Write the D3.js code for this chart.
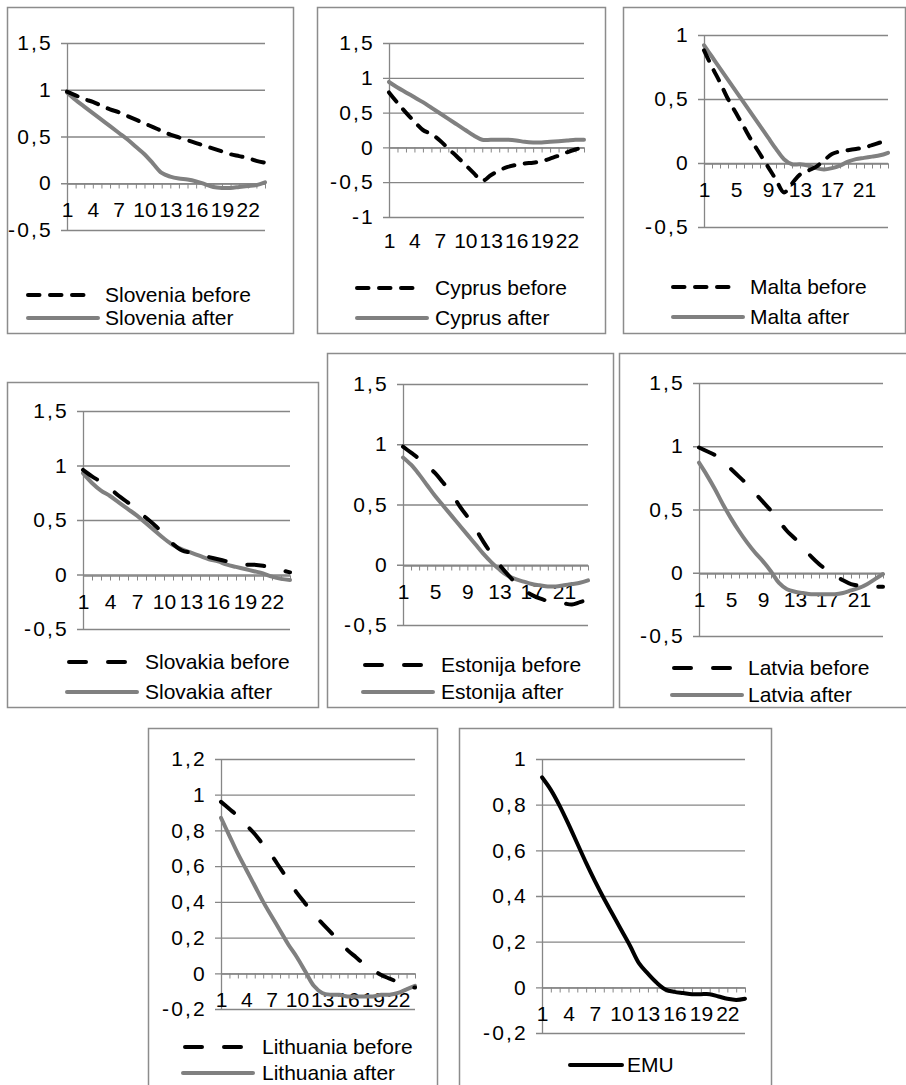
<!DOCTYPE html>
<html>
<head>
<meta charset="utf-8">
<script src="https://cdn.jsdelivr.net/npm/d3@7"></script>
<style>
  body { margin: 0; background: #fff; }
  text { font-family: "Liberation Sans", Arial, sans-serif; fill: #000; }
</style>
</head>
<body>
<div class="chart"></div>
<script>
// periods after the shock
var periods = [1, 2, 3, 4, 5, 6, 7, 8, 9, 10, 11, 12, 13, 14, 15, 16, 17, 18, 19, 20, 21, 22, 23, 24];

// y tick labels
var ticksHalf = [-0.5, 0, 0.5, 1, 1.5];
var ticksCyprus = [-1, -0.5, 0, 0.5, 1, 1.5];
var ticksMalta = [-0.5, 0, 0.5, 1];
var ticksLithuania = [-0.2, 0, 0.2, 0.4, 0.6, 0.8, 1, 1.2];
var ticksEmu = [-0.2, 0, 0.2, 0.4, 0.6, 0.8, 1];

// series
var sloveniaBefore = [0.98, 0.94, 0.90, 0.87, 0.83, 0.79, 0.76, 0.72, 0.68, 0.64, 0.60, 0.56, 0.52, 0.49, 0.46, 0.43, 0.40, 0.37, 0.34, 0.31, 0.29, 0.27, 0.24, 0.22];
var sloveniaAfter = [0.97, 0.89, 0.82, 0.75, 0.68, 0.61, 0.54, 0.47, 0.39, 0.31, 0.21, 0.11, 0.07, 0.05, 0.04, 0.02, -0.01, -0.04, -0.05, -0.05, -0.04, -0.03, -0.02, 0.01];
var cyprusBefore = [0.79, 0.64, 0.50, 0.37, 0.25, 0.19, 0.10, -0.02, -0.13, -0.25, -0.37, -0.48, -0.40, -0.33, -0.28, -0.25, -0.23, -0.22, -0.20, -0.16, -0.12, -0.07, -0.03, 0.0];
var cyprusAfter = [0.94, 0.86, 0.79, 0.72, 0.65, 0.57, 0.49, 0.41, 0.33, 0.25, 0.17, 0.11, 0.11, 0.11, 0.11, 0.10, 0.08, 0.07, 0.07, 0.08, 0.09, 0.10, 0.11, 0.11];
var maltaBefore = [0.88, 0.75, 0.63, 0.50, 0.39, 0.28, 0.17, 0.07, -0.03, -0.13, -0.23, -0.16, -0.09, -0.06, -0.03, 0.02, 0.07, 0.09, 0.10, 0.11, 0.12, 0.14, 0.16, 0.18];
var maltaAfter = [0.92, 0.83, 0.74, 0.65, 0.56, 0.47, 0.38, 0.29, 0.20, 0.11, 0.03, -0.01, -0.01, -0.02, -0.04, -0.05, -0.04, -0.02, 0.01, 0.03, 0.04, 0.05, 0.06, 0.08];
var slovakiaBefore = [0.96, 0.90, 0.85, 0.79, 0.72, 0.66, 0.59, 0.52, 0.45, 0.37, 0.28, 0.22, 0.20, 0.18, 0.16, 0.14, 0.12, 0.10, 0.09, 0.09, 0.08, 0.06, 0.04, 0.02];
var slovakiaAfter = [0.93, 0.84, 0.77, 0.72, 0.66, 0.60, 0.54, 0.47, 0.40, 0.33, 0.27, 0.23, 0.20, 0.17, 0.14, 0.12, 0.09, 0.07, 0.05, 0.03, 0.01, -0.02, -0.04, -0.05];
var estoniaBefore = [0.98, 0.93, 0.88, 0.82, 0.76, 0.68, 0.60, 0.49, 0.40, 0.30, 0.19, 0.09, 0.0, -0.08, -0.15, -0.21, -0.25, -0.28, -0.30, -0.31, -0.32, -0.33, -0.31, -0.29];
var estoniaAfter = [0.89, 0.83, 0.75, 0.66, 0.57, 0.49, 0.41, 0.33, 0.25, 0.17, 0.09, 0.02, -0.04, -0.09, -0.12, -0.14, -0.16, -0.17, -0.18, -0.18, -0.17, -0.16, -0.15, -0.13];
var latviaBefore = [0.99, 0.96, 0.93, 0.88, 0.82, 0.76, 0.70, 0.63, 0.56, 0.49, 0.41, 0.33, 0.27, 0.20, 0.13, 0.07, 0.02, -0.02, -0.06, -0.09, -0.10, -0.10, -0.11, -0.11];
var latviaAfter = [0.87, 0.77, 0.66, 0.54, 0.43, 0.33, 0.24, 0.16, 0.09, 0.01, -0.08, -0.13, -0.15, -0.16, -0.17, -0.17, -0.17, -0.17, -0.16, -0.14, -0.12, -0.09, -0.05, -0.01];
var lithuaniaBefore = [0.96, 0.92, 0.88, 0.83, 0.78, 0.72, 0.66, 0.59, 0.52, 0.45, 0.39, 0.33, 0.28, 0.23, 0.18, 0.13, 0.09, 0.05, 0.02, -0.01, -0.03, -0.05, -0.07, -0.08];
var lithuaniaAfter = [0.87, 0.77, 0.67, 0.58, 0.49, 0.40, 0.32, 0.24, 0.16, 0.09, 0.01, -0.07, -0.11, -0.12, -0.12, -0.13, -0.13, -0.13, -0.13, -0.12, -0.12, -0.11, -0.09, -0.07];
var emu = [0.92, 0.865, 0.795, 0.715, 0.63, 0.545, 0.465, 0.39, 0.32, 0.25, 0.18, 0.105, 0.06, 0.02, -0.01, -0.02, -0.025, -0.03, -0.03, -0.03, -0.04, -0.05, -0.055, -0.05];

var svgWidth = 906;
var svgHeight = 1085;
var gridColor = "#868686";
var afterColor = "#808080";
var fontSize = 21;

var svg = d3.select(".chart")
  .append("svg")
  .attr("width", svgWidth)
  .attr("height", svgHeight)
  .style("display", "block");

svg.append("rect").attr("width", svgWidth).attr("height", svgHeight).attr("fill", "#fff");

// layout of each small chart (box, plot area, legend)
var panels = [
  {box: [7, 7, 293, 333], plot: [67, 265, 43, 230], ticks: ticksHalf, every: 3, labelLow: false, dash: "short",
   legend: {x: 28, tx: 105, ys: [295, 318]},
   series: [{name: "Slovenia before", values: sloveniaBefore, kind: "before"}, {name: "Slovenia after", values: sloveniaAfter, kind: "after"}]},
  {box: [317, 7, 605, 333], plot: [389, 584, 43, 217], ticks: ticksCyprus, every: 3, labelLow: true, dash: "short",
   legend: {x: 357, tx: 435, ys: [288, 318]},
   series: [{name: "Cyprus before", values: cyprusBefore, kind: "before"}, {name: "Cyprus after", values: cyprusAfter, kind: "after"}]},
  {box: [623, 7, 905, 333], plot: [704, 888, 35, 227], ticks: ticksMalta, every: 4, labelLow: false, dash: "short",
   legend: {x: 673, tx: 750, ys: [287, 317]},
   series: [{name: "Malta before", values: maltaBefore, kind: "before"}, {name: "Malta after", values: maltaAfter, kind: "after"}]},
  {box: [7, 382, 318, 707], plot: [83, 290, 411, 629], ticks: ticksHalf, every: 3, labelLow: false, dash: "long",
   legend: {x: 67, tx: 145, ys: [662, 692]},
   series: [{name: "Slovakia before", values: slovakiaBefore, kind: "before"}, {name: "Slovakia after", values: slovakiaAfter, kind: "after"}]},
  {box: [327, 353, 613, 707], plot: [403, 588, 384, 625], ticks: ticksHalf, every: 4, labelLow: false, dash: "long",
   legend: {x: 363, tx: 441, ys: [665, 692]},
   series: [{name: "Estonija before", values: estoniaBefore, kind: "before"}, {name: "Estonija after", values: estoniaAfter, kind: "after"}]},
  {box: [619, 353, 910, 707], plot: [699, 883, 383, 636], ticks: ticksHalf, every: 4, labelLow: false, dash: "long",
   legend: {x: 672, tx: 748, ys: [668, 695]},
   series: [{name: "Latvia before", values: latviaBefore, kind: "before"}, {name: "Latvia after", values: latviaAfter, kind: "after"}]},
  {box: [148, 728, 437, 1095], plot: [221, 415, 759, 1009], ticks: ticksLithuania, every: 3, labelLow: false, dash: "long",
   legend: {x: 183, tx: 262, ys: [1047, 1073]},
   series: [{name: "Lithuania before", values: lithuaniaBefore, kind: "before"}, {name: "Lithuania after", values: lithuaniaAfter, kind: "after"}]},
  {box: [459, 728, 771, 1095], plot: [542, 745, 759, 1033], ticks: ticksEmu, every: 3, labelLow: false, dash: "long",
   legend: {x: 570, tx: 627, ys: [1065], len: 52},
   series: [{name: "EMU", values: emu, kind: "solid"}]}
];

var fmt = function(d) { return String(d).replace(".", ","); };

function styleFor(kind, dash) {
  if (kind === "after") return {stroke: afterColor, dash: null};
  if (kind === "solid") return {stroke: "#000", dash: null};
  return {stroke: "#000", dash: dash === "short" ? "11.5,10.5" : "17,22"};
}

panels.forEach(function(p) {
  var g = svg.append("g");
  var left = p.plot[0], right = p.plot[1], top = p.plot[2], bottom = p.plot[3];
  var w = right - left;

  // outer box
  g.append("rect")
    .attr("x", p.box[0] + 0.5).attr("y", p.box[1] + 0.5)
    .attr("width", p.box[2] - p.box[0]).attr("height", p.box[3] - p.box[1])
    .attr("fill", "#fff").attr("stroke", "#8c8c8c").attr("stroke-width", 1.5);

  var x = d3.scalePoint().domain(periods).range([left, right]);
  var y = d3.scaleLinear().domain(d3.extent(p.ticks)).range([bottom, top]);

  // y axis with gridlines
  var yAxis = g.append("g")
    .attr("transform", `translate(${left},0)`)
    .call(d3.axisLeft(y).tickValues(p.ticks).tickFormat(fmt).tickSizeOuter(0).tickPadding(8));
  yAxis.select(".domain").attr("stroke", gridColor).attr("stroke-width", 1.3);
  yAxis.selectAll(".tick line").attr("x1", -6).attr("x2", w).attr("stroke", gridColor).attr("stroke-width", 1.3);
  yAxis.selectAll("text")
    .attr("font-size", fontSize)
    .attr("font-family", null)
    .attr("letter-spacing", 2.2);

  // category axis on zero line
  var y0 = Math.round(y(0)) + 0.5;
  var xAxis = g.append("g")
    .attr("transform", `translate(0,${y0})`)
    .call(d3.axisBottom(x).tickSizeInner(5).tickSizeOuter(0).tickPadding(14)
      .tickFormat(function(d) { return (d - 1) % p.every === 0 ? d : ""; }));
  xAxis.select(".domain").attr("stroke", gridColor).attr("stroke-width", 1.3);
  xAxis.selectAll(".tick line").attr("stroke", gridColor);
  xAxis.selectAll("text").attr("font-size", fontSize).attr("font-family", null);
  if (p.labelLow) {
    xAxis.selectAll("text").attr("y", bottom - y0 + 16);
  }

  // lines
  var line = d3.line()
    .x(function(d, i) { return x(periods[i]); })
    .y(function(d) { return y(d); })
    .curve(d3.curveCatmullRom.alpha(0.5));

  p.series.slice().reverse().forEach(function(s) {
    var st = styleFor(s.kind, p.dash);
    g.append("path")
      .datum(s.values)
      .attr("d", line)
      .attr("fill", "none")
      .attr("stroke", st.stroke)
      .attr("stroke-width", 4)
      .attr("stroke-linecap", "round")
      .attr("stroke-linejoin", "round")
      .attr("stroke-dasharray", st.dash);
  });

  // legend
  p.series.forEach(function(s, i) {
    var st = styleFor(s.kind, p.dash);
    var ly = p.legend.ys[i];
    var len = p.legend.len || 70;
    var x1 = p.legend.x, x2 = p.legend.x + len;
    if (st.dash && p.dash === "short") { x2 = p.legend.x + 66; }
    if (st.dash && p.dash === "long") { x1 = p.legend.x + 2; }
    g.append("line")
      .attr("x1", x1).attr("x2", x2).attr("y1", ly).attr("y2", ly)
      .attr("stroke", st.stroke).attr("stroke-width", 4)
      .attr("stroke-linecap", "round")
      .attr("stroke-dasharray", st.dash);
    g.append("text")
      .attr("x", p.legend.tx).attr("y", ly).attr("dy", "0.35em")
      .attr("font-size", fontSize)
      .text(s.name);
  });
});
</script>
</body>
</html>
